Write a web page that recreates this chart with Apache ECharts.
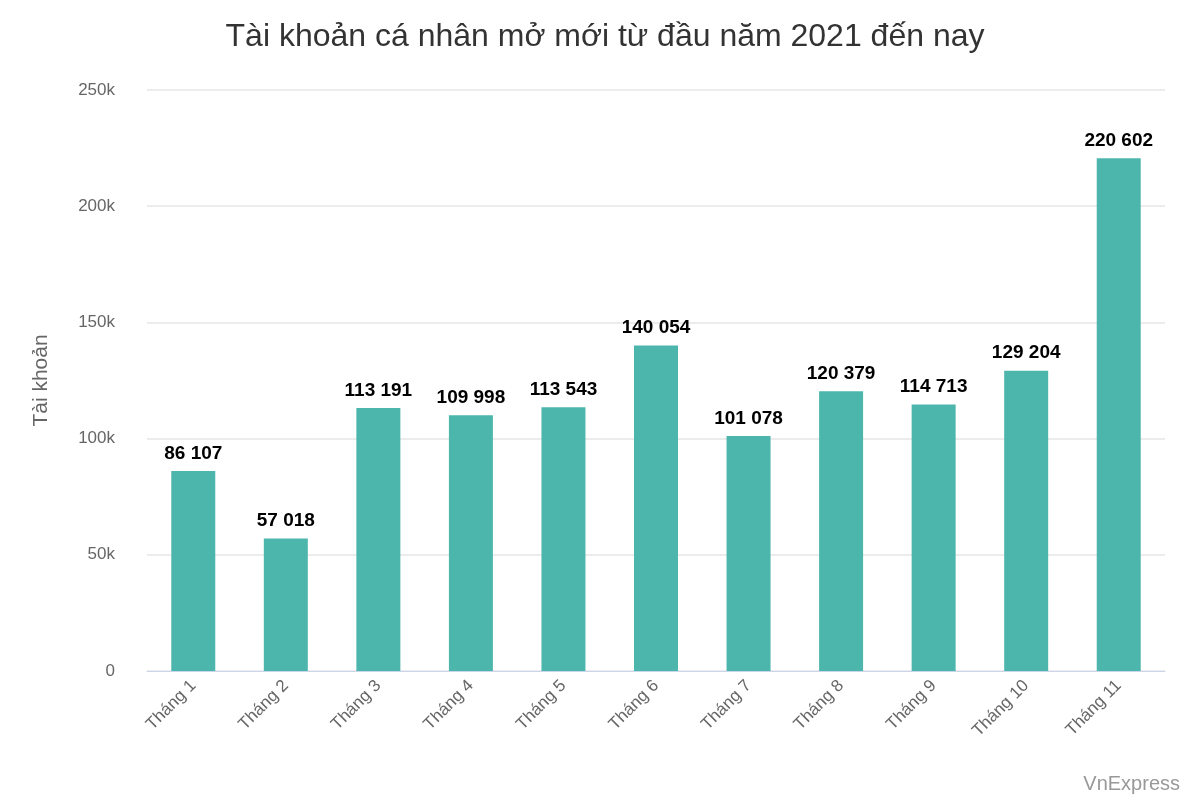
<!DOCTYPE html>
<html>
<head>
<meta charset="utf-8">
<script src="https://cdn.jsdelivr.net/npm/echarts@6/dist/echarts.min.js"></script>
<style>html,body{margin:0;padding:0;background:#fff}#chart{width:1200px;height:800px}</style>
</head>
<body>
<div id="chart"></div>
<script>
// dữ liệu
var months = ['Tháng 1','Tháng 2','Tháng 3','Tháng 4','Tháng 5','Tháng 6','Tháng 7','Tháng 8','Tháng 9','Tháng 10','Tháng 11'];
var accounts = [86107, 57018, 113191, 109998, 113543, 140054, 101078, 120379, 114713, 129204, 220602];
var yTicks = [0, 50000, 100000, 150000, 200000, 250000];

function fmtSpace(v) {
    return String(v).replace(/\B(?=(\d{3})+(?!\d))/g, ' ');
}

var chart = echarts.init(document.getElementById('chart'));
var option = {
    backgroundColor: '#FFFFFF',
    textStyle: {fontFamily: 'Arial, "Liberation Sans", sans-serif'},
    title: {
        text: 'Tài khoản cá nhân mở mới từ đầu năm 2021 đến nay',
        left: 600, top: 16, textAlign: 'center',
        textStyle: {fontSize: 32, fontWeight: 'normal', color: '#333333'}
    },
    graphic: [{
        type: 'text', right: 20, bottom: 6,
        style: {text: 'VnExpress', fontSize: 20, fill: '#999999', fontFamily: 'Arial, sans-serif'}
    }],
    grid: {left: 147, right: 35, top: 90, bottom: 129},
    xAxis: {
        type: 'category',
        data: months,
        axisTick: {show: false},
        axisLine: {lineStyle: {color: '#ccd6eb'}},
        axisLabel: {rotate: 45, color: '#666666', fontSize: 17, interval: 0, margin: 12}
    },
    yAxis: {
        type: 'value',
        min: yTicks[0], max: yTicks[yTicks.length - 1], interval: 50000,
        name: 'Tài khoản', nameLocation: 'middle', nameGap: 95,
        nameTextStyle: {fontSize: 21, color: '#666666'},
        splitLine: {lineStyle: {color: '#e6e6e6', width: 1.5}},
        axisLabel: {
            color: '#666666', fontSize: 17, margin: 32,
            formatter: function (v) { return v === 0 ? '0' : (v / 1000) + 'k'; }
        }
    },
    series: [{
        type: 'bar',
        data: accounts,
        barWidth: 44,
        itemStyle: {color: '#4db6ac'},
        label: {
            show: true, position: 'top', distance: 8,
            color: '#000000', fontSize: 19, fontWeight: 'bold',
            formatter: function (p) { return fmtSpace(p.value); }
        }
    }]
};
chart.setOption(option);
</script>
</body>
</html>
